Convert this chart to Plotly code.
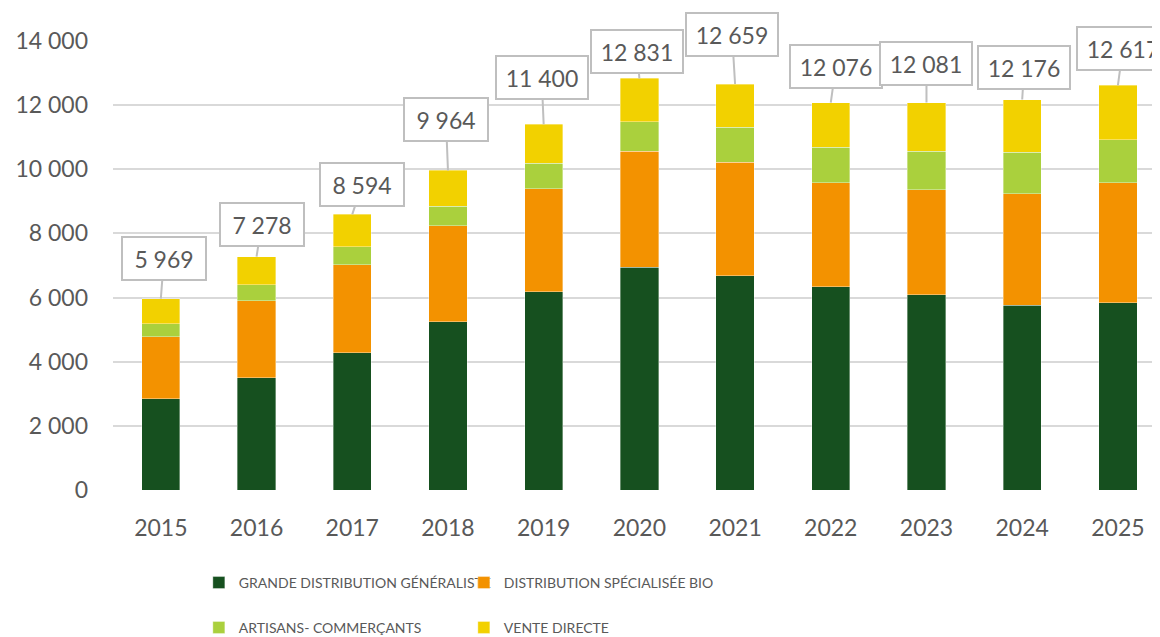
import plotly.graph_objects as go

years = [2015, 2016, 2017, 2018, 2019, 2020, 2021, 2022, 2023, 2024, 2025]
grande_distribution = [2840, 3505, 4284, 5242, 6188, 6940, 6687, 6344, 6084, 5762, 5845]
distribution_bio = [1934, 2402, 2746, 3005, 3213, 3616, 3526, 3234, 3276, 3473, 3743]
artisans = [416, 489, 562, 593, 780, 926, 1092, 1103, 1196, 1290, 1332]
vente_directe = [779, 882, 1002, 1124, 1219, 1349, 1354, 1395, 1525, 1651, 1697]
totals = [5969, 7278, 8594, 9964, 11400, 12831, 12659, 12076, 12081, 12176, 12617]

series_names = ["GRANDE DISTRIBUTION GÉNÉRALISTE", "DISTRIBUTION SPÉCIALISÉE BIO",
                "ARTISANS- COMMERÇANTS", "VENTE DIRECTE"]

# styling (not data)
colors = ["#16501f", "#f39200", "#aad03d", "#f2d100"]
legend_ids = ["legend", "legend", "legend2", "legend2"]
label_dx = [3, 5, 10, -2, -2, -2, -3, 5, 0, 2, 5]
label_dy = [-40, -32, -30, -51, -47, -27, -50, -36, -39, -32, -37]

TXT = "#595959"
FONT = "Lato"

fig = go.Figure()
for name, vals, col, lg in zip(series_names,
                               [grande_distribution, distribution_bio, artisans, vente_directe],
                               colors, legend_ids):
    fig.add_trace(go.Bar(
        x=years, y=vals, name=name, legend=lg,
        marker=dict(color=col, line=dict(color="rgba(255,255,255,0.6)", width=0.6)),
        width=0.4,
    ))

for yr, tot, dx, dy in zip(years, totals, label_dx, label_dy):
    txt = f"{tot:,}".replace(",", " ")
    fig.add_annotation(
        x=yr, y=tot, xref="x", yref="y",
        text=txt, showarrow=True, arrowhead=0, arrowwidth=2, arrowcolor="#bfbfbf",
        ax=dx, ay=dy, axref="pixel", ayref="pixel",
        font=dict(family=FONT, size=23, color=TXT),
        bgcolor="white", bordercolor="#bfbfbf", borderwidth=2, borderpad=6,
        width=70 if len(txt) == 5 else 78, height=29,
    )

# page body has an 8px offset; figure sized to fill the remaining window
fig.update_layout(
    width=1152, height=629,
    margin=dict(l=105, r=0, t=33, b=147, autoexpand=False),
    paper_bgcolor="white", plot_bgcolor="white",
    barmode="stack",
    separators=", ",
    font=dict(family=FONT, color=TXT),
    xaxis=dict(
        type="linear", range=[2014.5, 2025.44],
        tickvals=years, tickformat="d",
        showgrid=False, showline=False, zeroline=False,
        tickfont=dict(family=FONT, size=23, color=TXT),
        ticks="", ticklabelstandoff=22,
    ),
    yaxis=dict(
        range=[0, 14000], tickvals=[0, 2000, 4000, 6000, 8000, 10000, 12000, 14000],
        tickformat=",d",
        showgrid=True, gridcolor="#d9d9d9", gridwidth=2,
        zeroline=False, showline=False,
        tickfont=dict(family=FONT, size=23, color=TXT),
        ticks="", ticklabelstandoff=24,
    ),
    legend=dict(
        orientation="h", x=0.082, xanchor="left", y=-0.207, yanchor="middle",
        entrywidth=220, font=dict(family=FONT, size=14, color=TXT),
        bgcolor="rgba(0,0,0,0)", traceorder="normal",
    ),
    legend2=dict(
        orientation="h", x=0.082, xanchor="left", y=-0.307, yanchor="middle",
        entrywidth=220, font=dict(family=FONT, size=14, color=TXT),
        bgcolor="rgba(0,0,0,0)", traceorder="normal",
    ),
)

fig.write_html("out.html")
